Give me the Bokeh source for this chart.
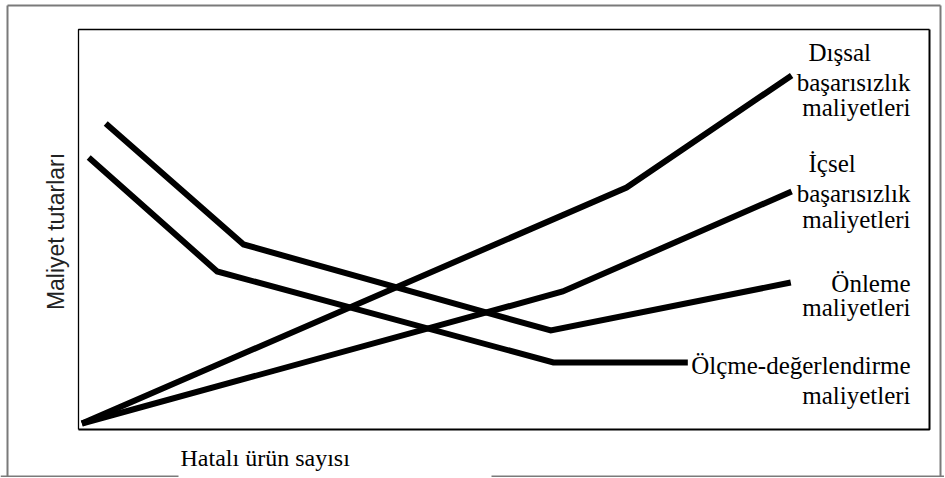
import math
from bokeh.plotting import figure
from bokeh.models import Range1d
from bokeh.core.properties import value
from bokeh.embed import file_html
from bokeh.resources import INLINE

# ---------------- data (relative units: x = defective units, y = cost, 0-100) -------------
dissal_x = [0.4, 64.4, 83.8]
dissal_y = [1.5, 60.5, 88.5]
icsel_x = [0.4, 56.9, 83.8]
icsel_y = [1.5, 34.5, 59.5]
onleme_x = [3.2, 19.4, 55.5, 83.7]
onleme_y = [76.5, 46.25, 24.75, 36.75]
olcme_x = [1.2, 16.3, 55.8, 71.6]
olcme_y = [68.0, 39.5, 16.75, 16.75]

x_title = "Hatalı ürün sayısı"
y_title = "Maliyet tutarları"
dissal_lines = ["Dışsal", "başarısızlık", "maliyetleri"]
icsel_lines = ["İçsel", "başarısızlık", "maliyetleri"]
onleme_lines = ["Önleme", "maliyetleri"]
olcme_lines = ["Ölçme-değerlendirme", "maliyetleri"]

# ---------------- layout (canvas pixels) ----------------
W, H = 944, 477
BOX_L, BOX_R, BOX_T, BOX_B = 78, 929, 29, 429
SX = (BOX_R - BOX_L) / 100.0
SY = (BOX_B - BOX_T) / 100.0


def cx(px):
    return (px - BOX_L) / SX


def cy(py):
    return (BOX_B - py) / SY


p = figure(width=W, height=H, output_backend="svg", toolbar_location=None,
           x_axis_type=None, y_axis_type=None,
           x_range=Range1d(cx(0), cx(W)), y_range=Range1d(cy(H), cy(0)),
           min_border=0, outline_line_color=None,
           background_fill_color="white", border_fill_color="white")
p.grid.visible = False

# outer (gray) frame
gray = "#7a7a7a"
p.line([cx(7), cx(940)], [cy(5), cy(5)], line_color=gray, line_width=2)
p.line([cx(7), cx(7)], [cy(5), cy(476)], line_color=gray, line_width=2)
p.line([cx(940), cx(940)], [cy(5), cy(476)], line_color=gray, line_width=2)
p.line([cx(0), cx(178)], [cy(476), cy(476)], line_color=gray, line_width=2)
p.line([cx(491), cx(945)], [cy(476), cy(476)], line_color=gray, line_width=2)

# inner plot frame
p.line([0, 0, 100], [0, 100, 100], line_color="black", line_width=1.3)
p.line([100, 100, 0], [100, 0, 0], line_color="black", line_width=2)

# series
for xs, ys in [(dissal_x, dissal_y), (icsel_x, icsel_y),
               (onleme_x, onleme_y), (olcme_x, olcme_y)]:
    p.line(xs, ys, line_color="black", line_width=6,
           line_join="miter", line_cap="butt")

R = 910
serif = value("Liberation Serif")


def block(lines, bases, first_left):
    if first_left is not None:
        p.text(x=[cx(first_left)], y=[cy(bases[0])], text=[lines[0]],
               text_font=serif, text_font_size="25px", text_align="left",
               text_baseline="alphabetic", text_color="black")
        lines, bases = lines[1:], bases[1:]
    p.text(x=[cx(R)] * len(lines), y=[cy(b) for b in bases], text=lines,
           text_font=serif, text_font_size="25px", text_align="right",
           text_baseline="alphabetic", text_color="black")


block(dissal_lines, [52, 82, 107], 808)
block(icsel_lines, [163, 193, 219], 808)
block(onleme_lines, [283, 307], None)
block(olcme_lines, [365, 395], None)

# x title
p.text(x=[cx(180)], y=[cy(457)], text=[x_title], text_font=serif,
       text_font_size="24px", text_align="left", text_baseline="alphabetic",
       text_color="black")

# y title (rotated)
p.text(x=[cx(55)], y=[cy(231)], text=[y_title], angle=math.pi / 2,
       text_font=value("Liberation Sans"), text_font_size="23px",
       text_align="center", text_baseline="middle", text_color="#222222")

open("out.html", "w").write(file_html(p, INLINE))
